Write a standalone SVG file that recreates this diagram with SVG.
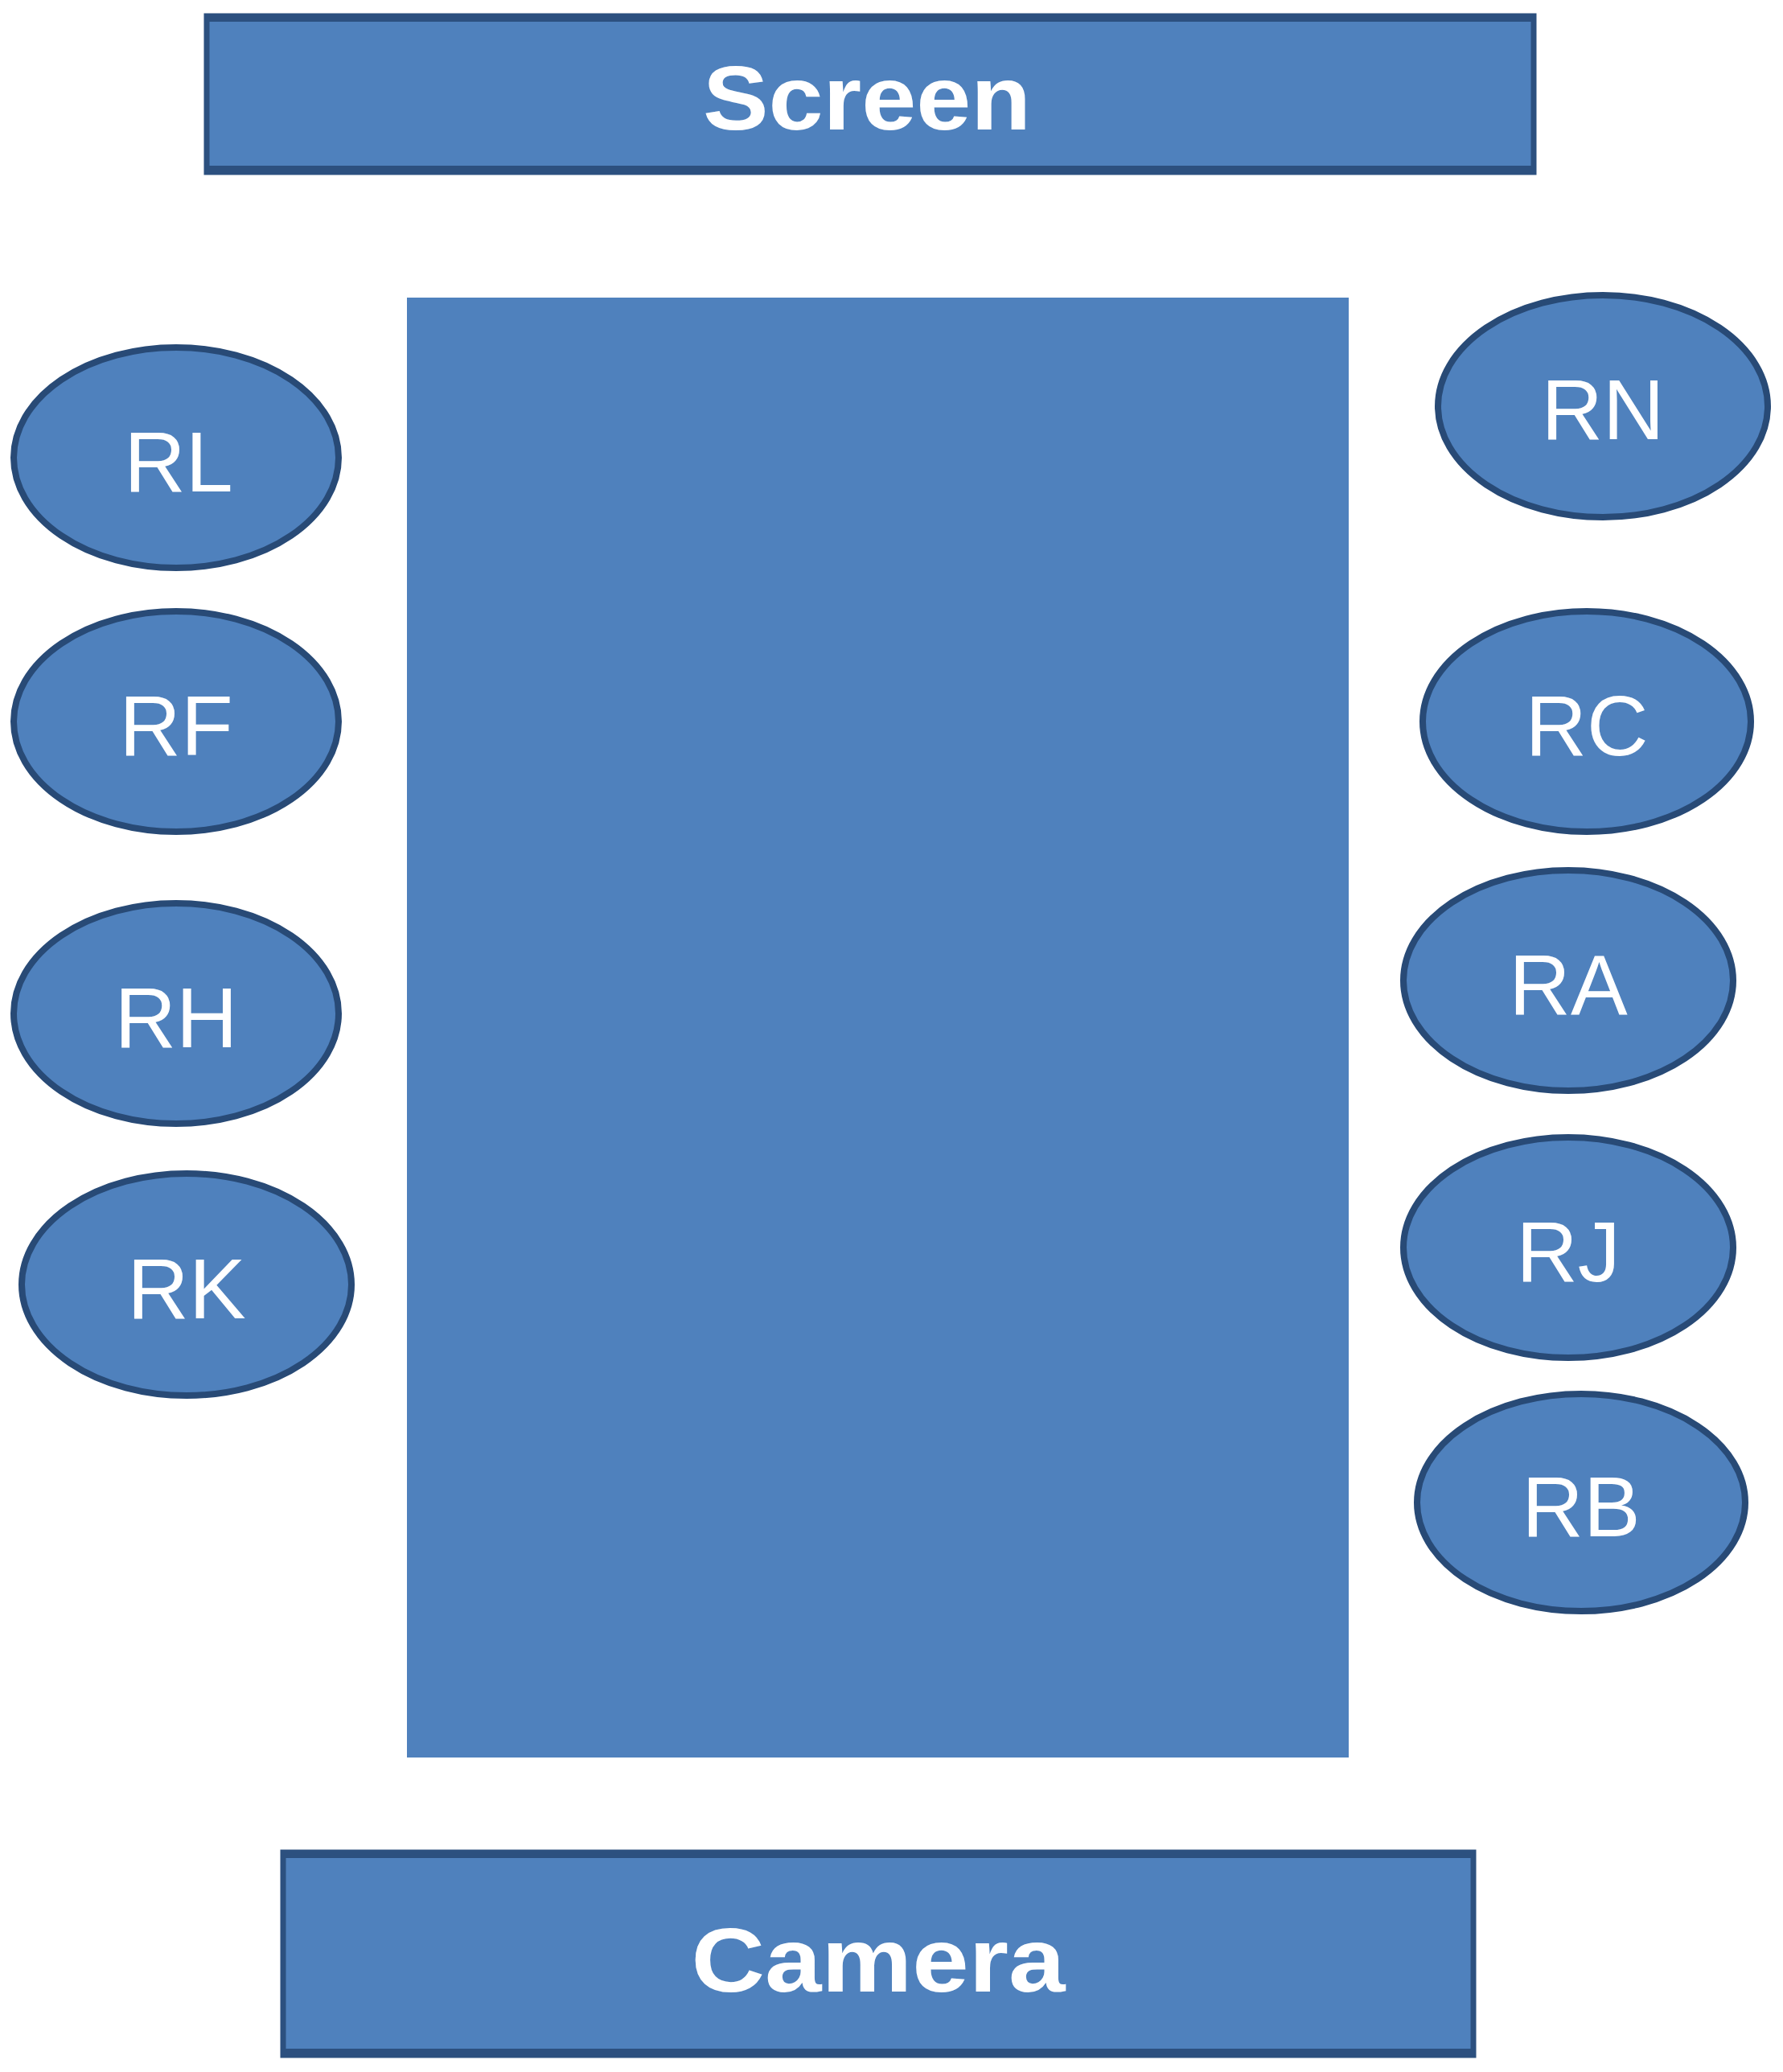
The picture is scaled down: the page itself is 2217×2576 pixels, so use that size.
<svg xmlns="http://www.w3.org/2000/svg" width="2217" height="2576" viewBox="0 0 2217 2576">
<style>
.box{fill:#4F81BD;stroke:#2C507F;stroke-width:7}
.edge{fill:#2C507F}
.seat{fill:#4F81BD;stroke:#284A76;stroke-width:8}
.table{fill:#4F81BD}
.big{font-family:"Liberation Sans",Arial,sans-serif;font-weight:bold;font-size:114px;fill:#FFFFFF;text-anchor:middle}
.lbl{font-family:"Liberation Sans",Arial,sans-serif;font-size:106px;fill:#FFFFFF;text-anchor:middle}
</style>
<rect width="2217" height="2576" fill="#FFFFFF"/>
<g id="connectors"></g>
<g id="screen">
<rect class="box" x="257" y="20" width="1650" height="194"/>
<rect class="edge" x="257" y="17" width="1650" height="10"/>
<rect class="edge" x="257" y="206" width="1650" height="10"/>
<text class="big" x="1078" y="161" textLength="408" lengthAdjust="spacingAndGlyphs">Screen</text>
</g>
<g id="table">
<rect class="table" x="506" y="370" width="1171" height="1815"/>
</g>
<g id="camera">
<rect class="box" x="352" y="2303" width="1480" height="252"/>
<rect class="edge" x="352" y="2300" width="1480" height="10"/>
<rect class="edge" x="352" y="2547" width="1480" height="10"/>
<text class="big" x="1092" y="2476" textLength="465" lengthAdjust="spacingAndGlyphs">Camera</text>
</g>
<g id="RL"><ellipse class="seat" cx="219" cy="569" rx="202" ry="137"/><text class="lbl" x="222" y="611">RL</text></g>
<g id="RF"><ellipse class="seat" cx="219" cy="897" rx="202" ry="137"/><text class="lbl" x="219" y="939">RF</text></g>
<g id="RH"><ellipse class="seat" cx="219" cy="1260" rx="202" ry="137"/><text class="lbl" x="219" y="1302">RH</text></g>
<g id="RK"><ellipse class="seat" cx="232" cy="1597" rx="205" ry="138"/><text class="lbl" x="232" y="1639">RK</text></g>
<g id="RN"><ellipse class="seat" cx="1993" cy="505" rx="205" ry="138"/><text class="lbl" x="1993" y="546">RN</text></g>
<g id="RC"><ellipse class="seat" cx="1973" cy="897" rx="204" ry="137"/><text class="lbl" x="1973" y="939">RC</text></g>
<g id="RA"><ellipse class="seat" cx="1950" cy="1219" rx="205" ry="137"/><text class="lbl" x="1950" y="1261">RA</text></g>
<g id="RJ"><ellipse class="seat" cx="1950" cy="1551" rx="205" ry="137"/><text class="lbl" x="1950" y="1593">RJ</text></g>
<g id="RB"><ellipse class="seat" cx="1966" cy="1868" rx="204" ry="135"/><text class="lbl" x="1966" y="1910">RB</text></g>
</svg>
